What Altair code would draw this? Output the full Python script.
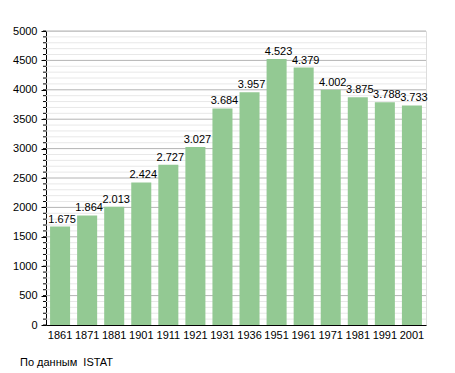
import altair as alt
import pandas as pd

years = ["1861", "1871", "1881", "1901", "1911", "1921", "1931", "1936", "1951", "1961", "1971", "1981", "1991", "2001"]
population = [1675, 1864, 2013, 2424, 2727, 3027, 3684, 3957, 4523, 4379, 4002, 3875, 3788, 3733]
source_note = ["По данным \u00a0ISTAT"]

df = pd.DataFrame({"year": years, "pop": population})
df["label"] = [f"{v:,}".replace(",", ".") for v in population]

minor = pd.DataFrame({"v": [v for v in range(100, 5001, 100) if v % 500 != 0]})
major = pd.DataFrame({"v": list(range(500, 5001, 500))})
all_ticks = pd.DataFrame({"v": list(range(0, 5001, 100))})

W, H = 380, 294
FONT = "Liberation Sans"

yscale = alt.Scale(domain=[0, 5000], nice=False)
yaxis = alt.Axis(title=None, values=list(range(0, 5001, 500)), grid=False, format="d",
                 tickSize=5, tickColor="black", domainColor="black",
                 labelColor="black", labelFont=FONT, labelFontSize=11,
                 labelPadding=4)

minor_grid = alt.Chart(minor).mark_rule(color="#e8e8e8", strokeWidth=1).encode(
    y=alt.Y("v:Q", scale=yscale, axis=yaxis, title=None),
    x=alt.value(0), x2=alt.value(W),
)
major_grid = alt.Chart(major).mark_rule(color="#b4b4b4", strokeWidth=1).encode(
    y=alt.Y("v:Q", scale=yscale, axis=yaxis, title=None),
    x=alt.value(0), x2=alt.value(W),
)
minor_ticks = alt.Chart(all_ticks).mark_rule(color="black", strokeWidth=1).encode(
    y=alt.Y("v:Q", scale=yscale, axis=yaxis, title=None),
    x=alt.value(-3), x2=alt.value(0),
)

xenc = alt.X("year:N", sort=years,
             scale=alt.Scale(paddingInner=0.26, paddingOuter=0.15),
             axis=alt.Axis(title=None, labelAngle=0, ticks=False, domainColor="black",
                           labelColor="black", labelFont=FONT, labelFontSize=11,
                           labelPadding=4))

bars = alt.Chart(df).mark_bar(color="#93c993").encode(
    x=xenc,
    y=alt.Y("pop:Q", scale=yscale, axis=yaxis, title=None),
)

texts = alt.Chart(df).mark_text(baseline="bottom", dy=-2, dx=2, fontSize=11, font=FONT, color="black").encode(
    x=alt.X("year:N", sort=years),
    y=alt.Y("pop:Q", scale=yscale, axis=yaxis, title=None),
    text="label:N",
)

note = alt.Chart(pd.DataFrame({"t": source_note})).mark_text(
    align="left", baseline="middle", fontSize=11, font=FONT, color="black"
).encode(x=alt.value(-26), y=alt.value(332), text="t:N")

chart = alt.layer(minor_grid, major_grid, bars, minor_ticks, texts, note).properties(
    width=W, height=H,
    autosize=alt.AutoSizeParams(type="none"),
    padding={"left": 38, "top": 23, "right": 20, "bottom": 48},
).configure_view(stroke=None).configure(background="white")

chart.save("out.html", embed_options={"renderer": "svg", "actions": False})
